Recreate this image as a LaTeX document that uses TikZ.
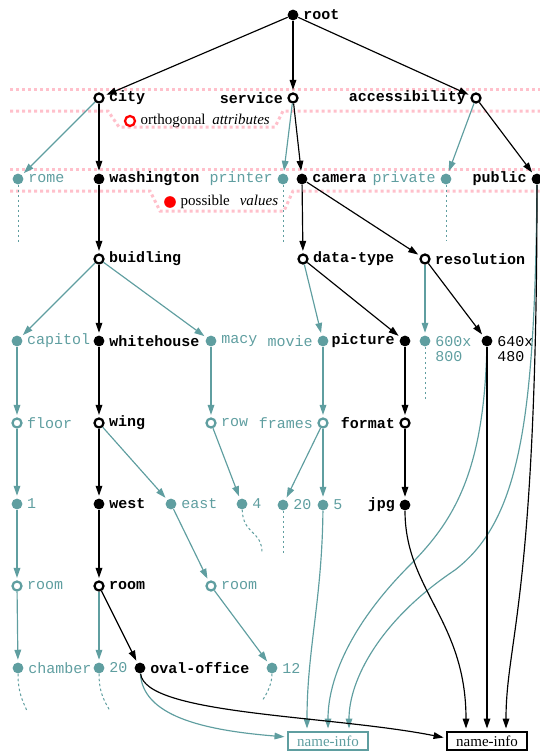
\documentclass[tikz,border=0pt]{standalone}
\usepackage{fontspec}
\setmainfont{Liberation Serif}
\setmonofont{Liberation Mono}
\usetikzlibrary{positioning,arrows.meta,calc}
\definecolor{cadet}{RGB}{95,158,160}
\definecolor{bandpink}{RGB}{255,192,203}
\newcommand{\diagmono}{\fontsize{9}{9}\selectfont\ttfamily}
\tikzset{
    dot/.style={circle, fill=black, inner sep=0pt, minimum size=6.5pt},
    tdot/.style={dot, fill=cadet},
    ring/.style={circle, draw=black, fill=white, line width=1.35pt, inner sep=0pt, minimum size=5.4pt},
    tring/.style={ring, draw=cadet},
    every label/.append style={inner sep=2.5pt},
    vtext/.style={font=\diagmono\bfseries},
    ttext/.style={font=\diagmono, text=cadet},
    twoline/.style={align=left, anchor=north west, yshift=5.5pt},
    lr/.style={label={[vtext]right:#1}},
    ll/.style={label={[vtext]left:#1}},
    tlr/.style={label={[ttext]right:#1}},
    tll/.style={label={[ttext]left:#1}},
    bedge/.style={draw=black, line width=0.7pt, -{Triangle[length=6pt,width=4pt]}, shorten >=1.5pt},
    tedge/.style={bedge, draw=cadet},
    stub/.style={draw=cadet, line width=0.6pt, dash pattern=on 1.5pt off 1.5pt},
    band/.style={draw=bandpink, line width=1.8pt, dash pattern=on 1.8pt off 1.8pt},
    infobox/.style={rectangle, draw=black, line width=1.2pt, minimum width=48pt,
        minimum height=10.8pt, inner sep=0pt, font=\fontsize{9}{9}\selectfont}
}

\begin{document}
\begin{tikzpicture}[x=0.6pt,y=-0.6pt]
\useasboundingbox (0,0) rectangle (540,751);

% attribute and value bands
\draw[band] (10,90) -- (540,90);
\draw[band] (10,111) -- (108,111) -- (119,127) -- (275,127) -- (283,111) -- (540,111);
\draw[band] (10,169) -- (540,169);
\draw[band] (10,191) -- (150,191) -- (160,211) -- (284,211) -- (293,191) -- (540,191);

\node[ring, draw=red, minimum size=6pt,
    label={[font=\fontsize{9}{9}\selectfont]right:orthogonal\hspace{4pt}\textit{attributes}}] (orth) at (130,121) {};
\node[dot, fill=red, minimum size=7pt,
    label={[font=\fontsize{9}{9}\selectfont]right:possible\hspace{6pt}\textit{values}}] (poss) at (170,202) {};

\node[dot, lr=root] (root) at (293,15) {};

\node[ring, lr=city] (city) at (99,98) {};
\node[ring, ll=service] (service) at (293,98) {};
\node[ring, ll=accessibility] (access) at (476,98) {};

\node[tdot, tlr=rome] (rome) at (18,179) {};
\node[dot, lr=washington] (washington) at (99,179) {};
\node[tdot, tll=printer] (printer) at (283,179) {};
\node[dot, lr=camera] (camera) at (302,179) {};
\node[tdot, tll=private] (private) at (446,179) {};
\node[dot, ll=public] (public) at (537,179) {};

\node[ring, lr=buidling] (buidling) at (99,259) {};
\node[ring, lr=data-type] (datatype) at (303,259) {};
\node[ring, lr=resolution] (resolution) at (425,259) {};

\node[tdot, tlr=capitol] (capitol) at (17,341) {};
\node[dot, lr=whitehouse] (whitehouse) at (99,341) {};
\node[tdot, tlr=macy] (macy) at (211,341) {};
\node[tdot, tll=movie] (movie) at (323,341) {};
\node[dot, ll=picture] (picture) at (405,341) {};
\node[tdot, label={[ttext, twoline]right:600x\\800}] (res600) at (425,341) {};
\node[dot, label={[ttext, text=black, twoline]right:640x\\480}] (res640) at (487,341) {};

\node[tring, tlr=floor] (floor) at (17,423) {};
\node[ring, lr=wing] (wing) at (99,423) {};
\node[tring, tlr=row] (row) at (211,423) {};
\node[tring, tll=frames] (frames) at (323,423) {};
\node[ring, ll=format] (format) at (405,423) {};

\node[tdot, tlr=1] (one) at (17,504) {};
\node[dot, lr=west] (west) at (99,504) {};
\node[tdot, tlr=east] (east) at (171,504) {};
\node[tdot, tlr=4] (four) at (242,504) {};
\node[tdot, tlr=20] (twenty) at (283,505) {};
\node[tdot, tlr=5] (five) at (323,505) {};
\node[dot, ll=jpg] (jpg) at (405,505) {};

\node[tring, tlr=room] (rooma) at (17,586) {};
\node[ring, lr=room] (roomb) at (99,586) {};
\node[tring, tlr=room] (roomc) at (211,586) {};

\node[tdot, tlr=chamber] (chamber) at (18,668) {};
\node[tdot, tlr=20] (twentyb) at (99,668) {};
\node[dot, lr=oval-office] (oval) at (140,668) {};
\node[tdot, tlr=12] (twelve) at (272,668) {};

\node[infobox, draw=cadet, text=cadet] (tinfo) at (328,741) {name-info};
\node[infobox] (binfo) at (487,741) {name-info};

% loose ends
\coordinate (romeend) at (18,242);
\coordinate (printerend) at (283,242);
\coordinate (privateend) at (446,240);
\coordinate (res600end) at (425,400);
\coordinate (fourend) at (262,553);
\coordinate (twentyend) at (283,553);
\coordinate (chamberend) at (27,711);
\coordinate (twentybend) at (110,711);
\coordinate (twelveend) at (262,701);

\draw[stub] (rome) -- (romeend);
\draw[stub] (printer) -- (printerend);
\draw[stub] (private) -- (privateend);
\draw[stub] (res600) -- (res600end);
\draw[stub] (four) .. controls (243,535) and (262,530) .. (fourend);
\draw[stub] (twenty) -- (twentyend);
\draw[stub] (chamber) .. controls (18,695) and (24,703) .. (chamberend);
\draw[stub] (twentyb) .. controls (99,695) and (106,703) .. (twentybend);
\draw[stub] (twelve) .. controls (272,685) and (266,695) .. (twelveend);

\draw[bedge] (root) -- (city);
\draw[bedge] (root) -- (service);
\draw[bedge] (root) -- (access);
\draw[tedge] (city) -- (rome);
\draw[bedge] (city) -- (washington);
\draw[tedge] (service) -- (printer);
\draw[bedge] (service) -- (camera);
\draw[tedge] (access) -- (private);
\draw[bedge] (access) -- (public);

\draw[bedge] (washington) -- (buidling);
\draw[bedge] (camera) -- (datatype);
\draw[bedge] (camera) -- (resolution);

\draw[tedge] (buidling) -- (capitol);
\draw[bedge] (buidling) -- (whitehouse);
\draw[tedge] (buidling) -- (macy);
\draw[tedge] (datatype) -- (movie);
\draw[bedge] (datatype) -- (picture);
\draw[tedge] (resolution) -- (res600);
\draw[bedge] (resolution) -- (res640);

\draw[tedge] (capitol) -- (floor);
\draw[bedge] (whitehouse) -- (wing);
\draw[tedge] (macy) -- (row);
\draw[tedge] (movie) -- (frames);
\draw[bedge] (picture) -- (format);

\draw[tedge] (floor) -- (one);
\draw[bedge] (wing) -- (west);
\draw[tedge] (wing) -- (east);
\draw[tedge] (row) -- (four);
\draw[tedge] (frames) -- (twenty);
\draw[tedge] (frames) -- (five);
\draw[bedge] (format) -- (jpg);

\draw[tedge] (one) -- (rooma);
\draw[bedge] (west) -- (roomb);
\draw[tedge] (east) -- (roomc);

\draw[tedge] (rooma) -- (chamber);
\draw[tedge] (roomb) -- (twentyb);
\draw[bedge] (roomb) -- (oval);
\draw[tedge] (roomc) -- (twelve);

% into name-info
\draw[tedge] (oval) .. controls (143,715) and (200,730) .. ($(tinfo.west)+(0,-4)$);
\draw[tedge] (five) .. controls (322,600) and (307,650) .. ($(tinfo.north)+(-21,0)$);
\draw[tedge] (res640) .. controls (484,470) and (455,520) .. (410,565)
    .. controls (350,625) and (328,680) .. (tinfo.north);
\draw[tedge] (public) .. controls (535,420) and (520,520) .. (455,570)
    .. controls (380,620) and (349,680) .. ($(tinfo.north)+(21,0)$);
\draw[bedge] (oval) .. controls (145,715) and (330,715) .. ($(binfo.west)+(0,-3)$);
\draw[bedge] (jpg) .. controls (405,590) and (466,620) .. ($(binfo.north)+(-21,0)$);
\draw[bedge] (res640) -- (res640 |- binfo.north);
\draw[bedge] (public) .. controls (537,600) and (506,640) .. ($(binfo.north)+(19,0)$);
\end{tikzpicture}
\end{document}
